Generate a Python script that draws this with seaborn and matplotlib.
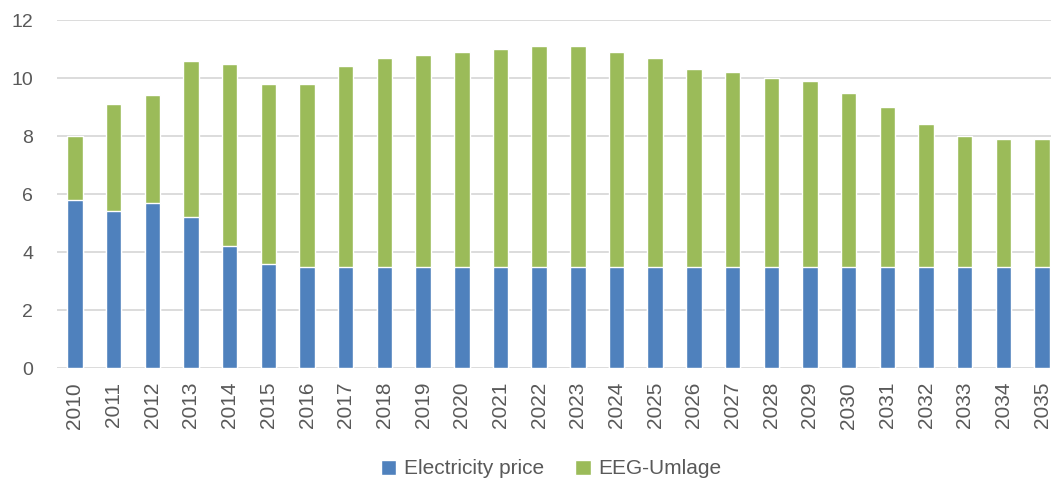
import pandas as pd
import seaborn as sns
import matplotlib.pyplot as plt

sns.set_style("white")
plt.rcParams['font.family'] = ['Liberation Sans', 'DejaVu Sans']

years = [str(y) for y in range(2010, 2036)]
electricity = [5.8, 5.4, 5.7, 5.2, 4.2, 3.6, 3.5, 3.5, 3.5, 3.5, 3.5, 3.5, 3.5,
               3.5, 3.5, 3.5, 3.5, 3.5, 3.5, 3.5, 3.5, 3.5, 3.5, 3.5, 3.5, 3.5]
total = [8.0, 9.1, 9.4, 10.6, 10.5, 9.8, 9.8, 10.4, 10.7, 10.8, 10.9, 11.0, 11.1,
         11.1, 10.9, 10.7, 10.3, 10.2, 10.0, 9.9, 9.5, 9.0, 8.4, 8.0, 7.9, 7.9]
eeg = [t - e for t, e in zip(total, electricity)]

df = pd.DataFrame({'year': years, 'Electricity price': electricity,
                   'EEG-Umlage': eeg})
df['total'] = df['Electricity price'] + df['EEG-Umlage']

fig = plt.figure(figsize=(10.51, 4.82), dpi=100)
ax = fig.add_axes([0.054, 0.2365, 0.946, 0.722])

# green = full stack, blue drawn over it
sns.barplot(x='year', y='total', data=df, color='#9BBB59', width=0.4,
            saturation=1, ax=ax, label='EEG-Umlage', zorder=3)
sns.barplot(x='year', y='Electricity price', data=df, color='#4F81BD', width=0.4,
            saturation=1, ax=ax, label='Electricity price', zorder=3)

ax.set_ylim(0, 12)
ax.set_xlim(-0.47, 25.23)
ax.set_yticks(range(0, 13, 2))
ax.yaxis.grid(True, color='#D9D9D9', linewidth=1.3, zorder=0)
for s in ['top', 'right', 'left', 'bottom']:
    ax.spines[s].set_visible(False)
ax.tick_params(axis='y', length=0, labelsize=14, colors='#595959', pad=17)
ax.tick_params(axis='x', length=0, labelsize=15, colors='#595959', pad=10)
plt.xticks(rotation=90)
ax.set_xlabel('')
ax.set_ylabel('')

h, l = ax.get_legend_handles_labels()
order = [l.index('Electricity price'), l.index('EEG-Umlage')]
ax.legend([h[i] for i in order], [l[i] for i in order], loc='center',
          bbox_to_anchor=(0.497, -0.29), ncol=2, frameon=False, fontsize=15,
          handlelength=0.75, handleheight=0.75, columnspacing=1.5, handletextpad=0.35,
          labelcolor='#595959')

fig.savefig('out.png', dpi=100)
